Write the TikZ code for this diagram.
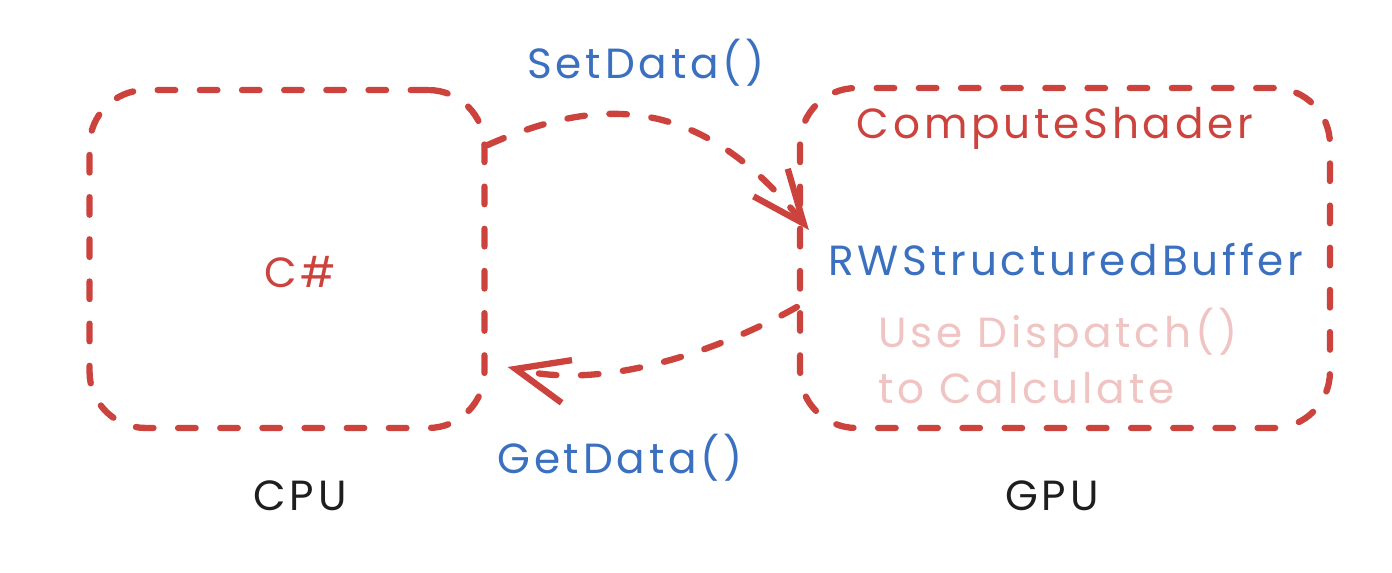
\documentclass[tikz,border=0pt]{standalone}
\usepackage{fontspec}
\setmainfont{Poppins}[LetterSpace=9]
\usetikzlibrary{arrows.meta}

\definecolor{sketchred}{HTML}{CC433E}
\definecolor{sketchblue}{HTML}{3A70BF}
\definecolor{sketchpink}{HTML}{EFC4C2}
\definecolor{sketchblack}{HTML}{1E1E1E}

\begin{document}
\begin{tikzpicture}[x=0.02cm, y=-0.02cm,
    sketch/.style={draw=sketchred, line width=3.6pt, line cap=round,
      dash pattern=on 10pt off 14pt},
    box/.style={sketch, rounded corners=32pt, inner sep=0pt},
    flow/.style={sketch, -{Straight Barb[length=30pt, width=25pt, line width=3.6pt]}},
    txt/.style={anchor=base, font=\fontsize{24}{32}\selectfont}]
  \useasboundingbox (0,0) rectangle (1392,572);

  % Boxes
  \node[box, minimum width=7.9cm, minimum height=6.76cm] (cpu) at (287,259) {};
  \node[box, minimum width=10.6cm, minimum height=6.8cm] (gpu) at (1065,258) {};

  % Box contents
  \node[txt, text=sketchred] (csharp) at (300,287) {C\#};
  \node[txt, text=sketchred] (shader) at (1055,138) {ComputeShader};
  \node[txt, text=sketchblue] (buffer) at (1066,275) {RWStructuredBuffer};
  \node[txt, text=sketchpink, anchor=north west, align=left, inner sep=0pt]
    (dispatch) at (878,308) {Use Dispatch()\\to Calculate};

  % Captions under the boxes
  \node[txt, text=sketchblack] (cpulbl) at (300,510) {CPU};
  \node[txt, text=sketchblack] (gpulbl) at (1052,510) {GPU};

  % Data transfer
  \draw[flow] ([yshift=2.28cm]cpu.east) .. controls (600,95) and (700,95)
    .. ([shift={(0.24cm,0.56cm)}]gpu.west);
  \draw[flow] ([yshift=-0.98cm]gpu.west) .. controls (730,345) and (610,392)
    .. ([shift={(0.4cm,-2.16cm)}]cpu.east);
  \node[txt, text=sketchblue] (setdata) at (646,78) {SetData()};
  \node[txt, text=sketchblue] (getdata) at (620,473) {GetData()};
\end{tikzpicture}
\end{document}
